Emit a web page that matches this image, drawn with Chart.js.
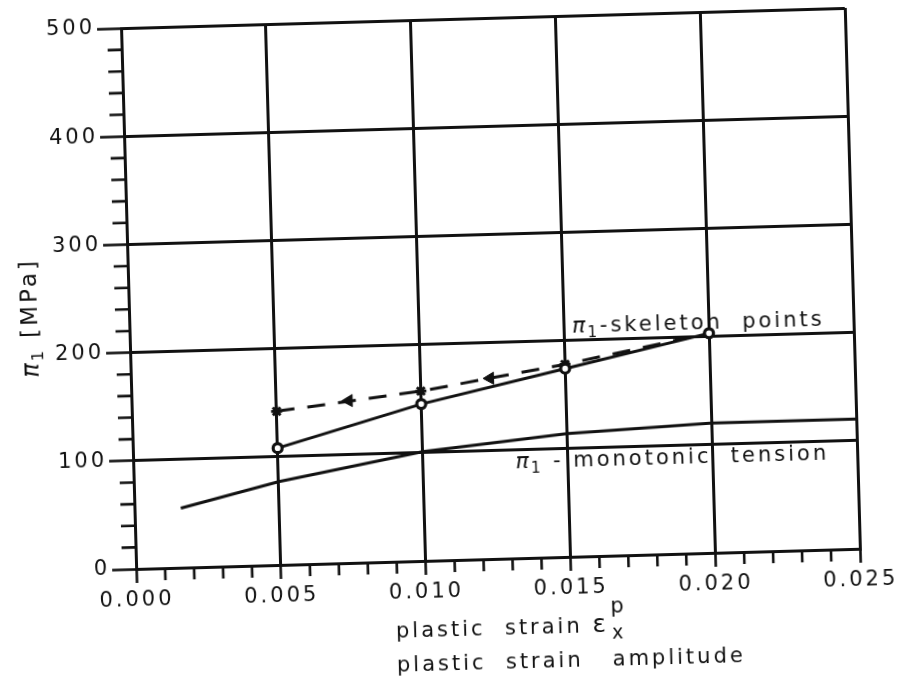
<!DOCTYPE html>
<html>
<head>
<meta charset="utf-8">
<title>Skeleton points vs monotonic tension</title>
<script src="https://cdn.jsdelivr.net/npm/chart.js@4.4.1/dist/chart.umd.min.js"></script>
<style>
  html, body { margin: 0; padding: 0; background: #fff; overflow: hidden; }
  #wrap { width: 908px; height: 688px; transform: rotate(-1.6deg); transform-origin: 50% 50%; }
</style>
</head>
<body>
<div id="wrap"><canvas id="stressChart" width="908" height="688"></canvas></div>
<script>
// axis ticks
const strainTicks = [0, 0.005, 0.010, 0.015, 0.020, 0.025];
const stressTicks = [0, 100, 200, 300, 400, 500];

// skeleton points (solid line with circles)
const skeletonStrain = [0.005, 0.010, 0.015, 0.020];
const skeletonStress = [108, 145, 174, 203];

// dashed return path
const returnStrain = [0.005, 0.010, 0.015, 0.020];
const returnStress = [142, 157, 178, 203];

// arrow heads on the dashed path
const arrowStrain = [0.0075, 0.0124];
const arrowStress = [150, 167];

// monotonic tension curve
const monotonicStrain = [0.0016, 0.005, 0.010, 0.015, 0.020, 0.025];
const monotonicStress = [55, 77, 101, 114, 120, 120];

const INK = '#111';
const FAMILY = '"DejaVu Sans", "Liberation Sans", sans-serif';
const FONT_SIZE = 21;
const LINE_W = 3;

const pts = (xs, ys) => xs.map((x, i) => ({ x: x, y: ys[i] }));

// draws a row of text pieces (for the subscripts / superscripts)
function drawRuns(ctx, x, y, runs, size) {
    let cx = x;
    const base = (size || FONT_SIZE) + 'px ' + FAMILY;
    runs.forEach(r => {
        ctx.font = r.font || base;
        ctx.fillText(r.t, cx, y + (r.dy || 0));
        cx += ctx.measureText(r.t).width + (r.gap || 0);
    });
    return cx;
}

function runsWidth(ctx, runs, size) {
    const base = (size || FONT_SIZE) + 'px ' + FAMILY;
    let w = 0;
    runs.forEach(r => {
        ctx.font = r.font || base;
        w += ctx.measureText(r.t).width + (r.gap || 0);
    });
    return w;
}

const piRuns = (rest, k) => [
    { t: 'π', font: 'italic ' + Math.round(22 * (k || 1)) + 'px ' + FAMILY, gap: -1 },
    { t: '1', font: Math.round(15 * (k || 1)) + 'px ' + FAMILY, dy: 5 },
    { t: rest }
];

const paperPlugin = {
    id: 'paper',
    beforeDraw(chart) {
        chart.ctx.letterSpacing = '3px';
    },
    afterDraw(chart) {
        const ctx = chart.ctx;
        const x = chart.scales.x, y = chart.scales.y;
        ctx.save();
        ctx.strokeStyle = INK;
        ctx.fillStyle = INK;
        ctx.lineWidth = 2.6;

        // minor ticks
        ctx.beginPath();
        for (let v = 20; v < 500; v += 20) {
            if (v % 100 === 0) continue;
            const py = y.getPixelForValue(v);
            ctx.moveTo(x.left - 14, py);
            ctx.lineTo(x.left, py);
        }
        for (let i = 1; i < 25; i++) {
            if (i % 5 === 0) continue;
            const px = x.getPixelForValue(i / 1000);
            ctx.moveTo(px, y.bottom);
            ctx.lineTo(px, y.bottom + 12);
        }
        ctx.stroke();

        ctx.letterSpacing = '3px';
        ctx.textBaseline = 'alphabetic';
        ctx.textAlign = 'left';

        // curve labels
        drawRuns(ctx, x.getPixelForValue(0.01528), y.getPixelForValue(207), piRuns('-skeleton  points'));
        drawRuns(ctx, x.getPixelForValue(0.0132), y.getPixelForValue(83), piRuns(' - monotonic  tension'));

        // x axis title
        const tx = 388;
        const ex = drawRuns(ctx, tx, 636, [
            { t: 'plastic  strain ' },
            { t: 'ε', font: '25px ' + FAMILY, gap: 2 }
        ]);
        drawRuns(ctx, ex, 617, [{ t: 'p' }]);
        drawRuns(ctx, ex + 1, 643, [{ t: 'x', font: '19px ' + FAMILY }]);
        drawRuns(ctx, tx, 670, [{ t: 'plastic  strain   amplitude' }]);

        // y axis title
        ctx.save();
        ctx.translate(38, 306);
        ctx.rotate(-Math.PI / 2);
        const yTitle = piRuns(' [MPa]', 1.08);
        const w = runsWidth(ctx, yTitle, 23);
        drawRuns(ctx, -w / 2, 0, yTitle, 23);
        ctx.restore();

        ctx.restore();
    }
};

new Chart(document.getElementById('stressChart'), {
    type: 'scatter',
    data: {
        datasets: [
            {
                label: 'monotonic tension',
                data: pts(monotonicStrain, monotonicStress),
                showLine: true,
                borderColor: INK,
                borderWidth: LINE_W,
                pointRadius: 0
            },
            {
                label: 'skeleton points',
                data: pts(skeletonStrain, skeletonStress),
                showLine: true,
                borderColor: INK,
                borderWidth: LINE_W,
                pointStyle: 'circle',
                pointRadius: 4.5,
                pointBorderWidth: 3.2,
                pointBorderColor: INK,
                pointBackgroundColor: '#fff'
            },
            {
                label: 'return',
                data: pts(returnStrain, returnStress),
                showLine: true,
                borderColor: INK,
                borderWidth: LINE_W,
                borderDash: [18, 13],
                pointStyle: 'star',
                pointRadius: 5.5,
                pointBorderWidth: 2.8,
                pointBorderColor: INK
            },
            {
                label: 'arrows',
                data: pts(arrowStrain, arrowStress),
                showLine: false,
                pointStyle: 'triangle',
                pointRotation: -90,
                pointRadius: 7,
                pointBorderWidth: 1,
                pointBorderColor: INK,
                pointBackgroundColor: INK
            }
        ]
    },
    options: {
        responsive: false,
        animation: false,
        layout: { padding: { left: 0, right: 54, top: 19, bottom: 0 } },
        plugins: { legend: { display: false }, tooltip: { enabled: false } },
        scales: {
            x: {
                type: 'linear',
                min: 0,
                max: 0.025,
                afterFit: s => { s.height = 128; },
                afterBuildTicks: s => { s.ticks = strainTicks.map(v => ({ value: v })); },
                ticks: {
                    color: INK,
                    font: { family: FAMILY, size: FONT_SIZE },
                    padding: 5,
                    maxRotation: 0,
                    autoSkip: false,
                    callback: v => Number(v).toFixed(3)
                },
                grid: { color: INK, lineWidth: LINE_W, tickLength: 14, tickColor: INK, tickWidth: 2.6 },
                border: { color: INK, width: LINE_W }
            },
            y: {
                type: 'linear',
                min: 0,
                max: 500,
                afterFit: s => { s.width = 130; },
                afterBuildTicks: s => { s.ticks = stressTicks.map(v => ({ value: v })); },
                ticks: {
                    color: INK,
                    font: { family: FAMILY, size: FONT_SIZE },
                    padding: 2,
                    autoSkip: false,
                    callback: v => String(v)
                },
                grid: { color: INK, lineWidth: LINE_W, tickLength: 24, tickColor: INK, tickWidth: 2.6 },
                border: { color: INK, width: LINE_W }
            }
        }
    },
    plugins: [paperPlugin]
});
</script>
</body>
</html>
